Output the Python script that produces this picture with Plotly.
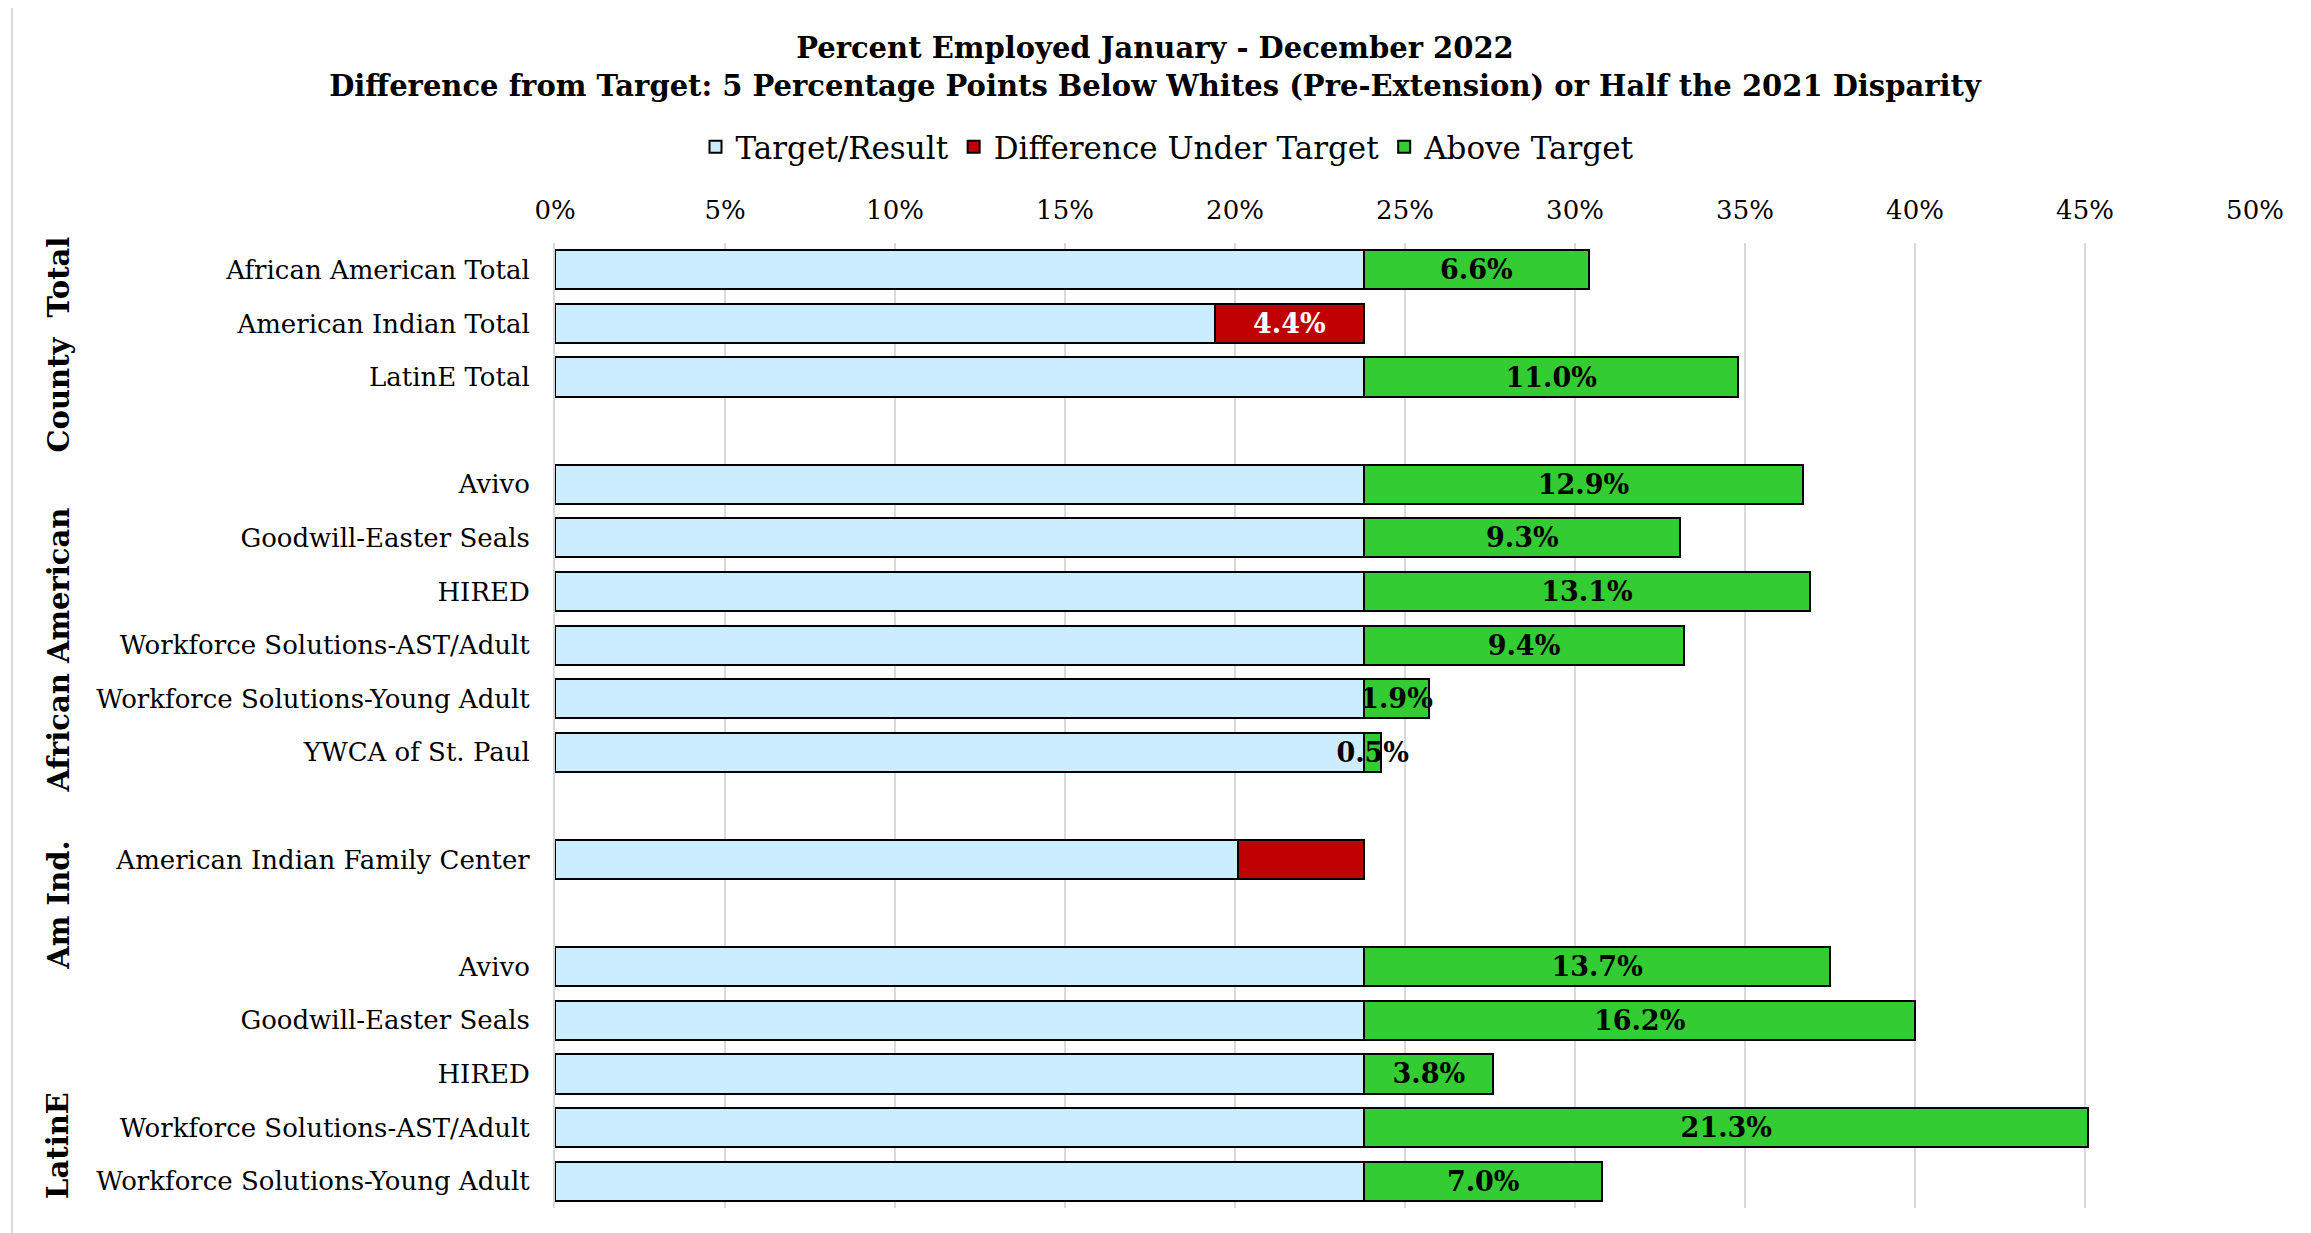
import plotly.graph_objects as go

# ---------------- data ----------------
TARGET = 23.8  # percent

group_names = ["County\u00a0 Total", "African American", "Am Ind.", "LatinE"]
group_members = [
    ["African American Total", "American Indian Total", "LatinE Total"],
    ["Avivo", "Goodwill-Easter Seals", "HIRED", "Workforce Solutions-AST/Adult",
     "Workforce Solutions-Young Adult", "YWCA of St. Paul"],
    ["American Indian Family Center"],
    ["Avivo", "Goodwill-Easter Seals", "HIRED", "Workforce Solutions-AST/Adult",
     "Workforce Solutions-Young Adult"],
]

# difference under target (percentage points), flat in row order
under_target = [0, 4.4, 0,
                0, 0, 0, 0, 0, 0,
                3.7,
                0, 0, 0, 0, 0]
# above target (percentage points)
above_target = [6.6, 0, 11.0,
                12.9, 9.3, 13.1, 9.4, 1.9, 0.5,
                0,
                13.7, 16.2, 3.8, 21.3, 7.0]
# whether the reference prints the "under" value
show_under_label = [False, True, False,
                    False, False, False, False, False, False,
                    False,
                    False, False, False, False, False]

x_ticks = [0, 5, 10, 15, 20, 25, 30, 35, 40, 45, 50]
x_tick_labels = ["0%", "5%", "10%", "15%", "20%", "25%", "30%", "35%", "40%", "45%", "50%"]

# ---------------- build rows ----------------
labels, ypos = [], []
row = 0
for gi, members in enumerate(group_members):
    for m in members:
        labels.append(m)
        ypos.append(row)
        row += 1
    if gi < len(group_members) - 1:
        row += 1  # blank separator row
n_rows = row

base_vals = [TARGET - u for u in under_target]
under_text = [f"{u:.1f}%" if s and u > 0 else "" for u, s in zip(under_target, show_under_label)]
above_text = [f"{a:.1f}%" if a > 0 else "" for a in above_target]

FONT = "DejaVu Serif"
BLUE = "#CCECFF"
RED = "#C00000"
GREEN = "#33CC33"
LINE = dict(color="#000000", width=2)

W, H = 2295, 1225  # page body has an 8px margin

fig = go.Figure()
fig.add_trace(go.Bar(
    name="Target/Result", y=ypos, x=base_vals, orientation="h",
    marker=dict(color=BLUE, line=LINE), width=0.73, hoverinfo="skip",
))
fig.add_trace(go.Bar(
    name="Difference Under Target", y=ypos, x=under_target, orientation="h",
    marker=dict(color=RED, line=LINE), width=0.73,
    text=under_text, textposition="inside", insidetextanchor="middle",
    constraintext="none", textangle=0, cliponaxis=False,
    textfont=dict(family=FONT, size=27, color="white", weight="bold"),
    hoverinfo="skip",
))
fig.add_trace(go.Bar(
    name="Above Target", y=ypos, x=above_target, orientation="h",
    marker=dict(color=GREEN, line=LINE), width=0.73,
    text=above_text, textposition="inside", insidetextanchor="middle",
    constraintext="none", textangle=0, cliponaxis=False,
    textfont=dict(family=FONT, size=27, color="black", weight="bold"),
    hoverinfo="skip",
))

# group labels (rotated)
group_label_y = [1.40, 7.09, 11.85, 16.33]
for name, yc in zip(group_names, group_label_y):
    fig.add_annotation(
        text=f"<b>{name}</b>", x=-0.292, xref="paper", y=yc, yref="y",
        textangle=-90, showarrow=False, xanchor="center", yanchor="middle",
        font=dict(family=FONT, size=29, color="black"),
    )

# chart-area border
fig.add_shape(type="rect", xref="paper", yref="paper",
              x0=-0.3194, x1=1.2, y0=-0.2, y1=1.2446,
              line=dict(color="#D9D9D9", width=2), fillcolor="rgba(0,0,0,0)", layer="below")

fig.update_layout(
    width=W, height=H,
    barmode="stack", bargap=0.27,
    paper_bgcolor="white", plot_bgcolor="white",
    margin=dict(l=547, r=48, t=235, b=25, autoexpand=False),
    font=dict(family=FONT, color="black"),
    title=dict(
        text="<b>Percent Employed January - December 2022</b><br>"
             "<b>Difference from Target: 5 Percentage Points Below Whites (Pre-Extension) or Half the 2021 Disparity</b>",
        x=(1155 - 8) / W, xref="container", xanchor="center",
        y=1 - 50 / H, yref="container", yanchor="middle",
        font=dict(family=FONT, size=29, color="black"),
    ),
    legend=dict(
        orientation="h", xref="container", yref="container",
        x=(1168 - 8) / W, xanchor="center", y=1 - 139 / H, yanchor="middle",
        font=dict(family=FONT, size=31, color="black"),
        traceorder="normal", itemwidth=30, tracegroupgap=0,
    ),
    xaxis=dict(
        side="top", range=[0, 50], tickvals=x_ticks, ticktext=x_tick_labels,
        showgrid=True, gridcolor="#D9D9D9", gridwidth=2,
        zeroline=False, showline=False, ticks="",
        tickfont=dict(family=FONT, size=26, color="black"),
        ticklabelstandoff=18, fixedrange=True,
    ),
    yaxis=dict(
        range=[n_rows - 0.5, -0.5], tickvals=ypos, ticktext=labels,
        showgrid=False, zeroline=False, showline=True, linecolor="#D9D9D9", linewidth=2,
        ticks="", tickfont=dict(family=FONT, size=26, color="black"),
        ticklabelstandoff=18, fixedrange=True,
    ),
    showlegend=True,
)

fig.write_html("out.html")
